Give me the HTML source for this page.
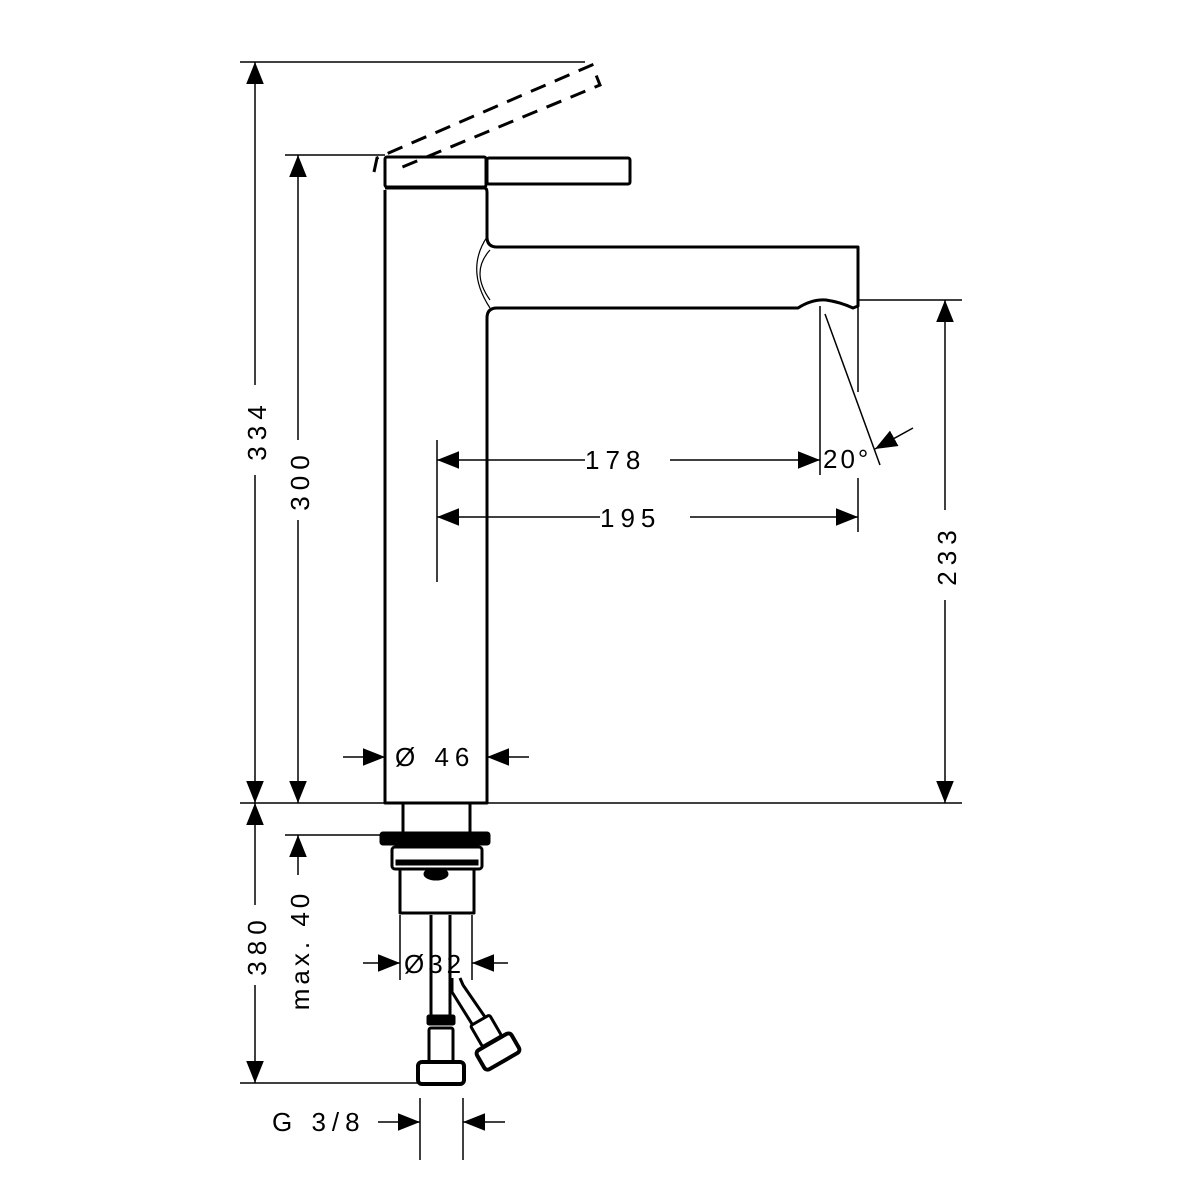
<!DOCTYPE html>
<html><head><style>html,body{margin:0;padding:0;background:#fff}svg{display:block}</style></head>
<body>
<svg width="1200" height="1200" viewBox="0 0 1200 1200" xmlns="http://www.w3.org/2000/svg" font-family="Liberation Sans, sans-serif">
<defs>
<marker id="a" viewBox="0 0 10 10" refX="10" refY="5" markerWidth="22" markerHeight="22" markerUnits="userSpaceOnUse" orient="auto"><path d="M0,1 L10,5 L0,9 z" fill="#000"/></marker>
</defs>
<g stroke="#000" fill="none" stroke-width="1.5">
<line x1="240" y1="62" x2="585" y2="62"/>
<line x1="285" y1="155" x2="385" y2="155"/>
<line x1="240" y1="803" x2="962" y2="803"/>
<line x1="858" y1="300" x2="962" y2="300"/>
<line x1="285" y1="835" x2="380" y2="835"/>
<line x1="240" y1="1083" x2="420" y2="1083"/>
<line x1="437" y1="440" x2="437" y2="582"/>
<line x1="820" y1="306" x2="820" y2="475"/>
<line x1="858" y1="300" x2="858" y2="392"/>
<line x1="858" y1="478" x2="858" y2="532"/>
<line x1="825" y1="314" x2="880" y2="465"/>
<line x1="255" y1="385" x2="255" y2="62" marker-end="url(#a)"/>
<line x1="255" y1="475" x2="255" y2="803" marker-end="url(#a)"/>
<line x1="298" y1="440" x2="298" y2="155" marker-end="url(#a)"/>
<line x1="298" y1="520" x2="298" y2="803" marker-end="url(#a)"/>
<line x1="945" y1="510" x2="945" y2="300" marker-end="url(#a)"/>
<line x1="945" y1="600" x2="945" y2="803" marker-end="url(#a)"/>
<line x1="585" y1="460" x2="437" y2="460" marker-end="url(#a)"/>
<line x1="670" y1="460" x2="820" y2="460" marker-end="url(#a)"/>
<line x1="600" y1="517" x2="437" y2="517" marker-end="url(#a)"/>
<line x1="690" y1="517" x2="858" y2="517" marker-end="url(#a)"/>
<line x1="913" y1="428" x2="875" y2="449" marker-end="url(#a)"/>
<line x1="343" y1="757" x2="385" y2="757" marker-end="url(#a)"/>
<line x1="529" y1="757" x2="487" y2="757" marker-end="url(#a)"/>
<line x1="255" y1="905" x2="255" y2="803" marker-end="url(#a)"/>
<line x1="255" y1="985" x2="255" y2="1083" marker-end="url(#a)"/>
<line x1="298" y1="875" x2="298" y2="835" marker-end="url(#a)"/>
<line x1="363" y1="963" x2="400" y2="963" marker-end="url(#a)"/>
<line x1="508" y1="963" x2="472" y2="963" marker-end="url(#a)"/>
<line x1="400" y1="915" x2="400" y2="980"/>
<line x1="472" y1="915" x2="472" y2="980"/>
<line x1="378" y1="1122" x2="420" y2="1122" marker-end="url(#a)"/>
<line x1="505" y1="1122" x2="463" y2="1122" marker-end="url(#a)"/>
<line x1="420" y1="1098" x2="420" y2="1160"/>
<line x1="463" y1="1098" x2="463" y2="1160"/>
</g>
<g stroke="#000" fill="none" stroke-width="3" stroke-linejoin="round">
<rect x="385" y="157" width="101" height="30" rx="2"/>
<rect x="487" y="158" width="143" height="26" rx="2"/>
<path d="M385,190 V803 H487 V318 Q487,308 497,308 L798,308 Q812,299 826,300 Q840,302 853,308 L858,306 V247 L497,247 Q487,247 487,237 V192 Q487,188 484,188 H385"/>
<path d="M403,803 V832 M470,803 V832"/>
<path d="M400,868 V913 H474 V868"/>
<path d="M431,915 V1017 M450,915 V1017"/>
<path d="M452,978 V992 L482,1040 M460,978 L463,985 L496,1033"/>
</g>
<g stroke="#000" fill="none" stroke-width="1.2">
<path d="M487,237 Q465,270 490,308 M490,250 Q470,272 490,300"/>
</g>
<g stroke="#000" fill="none" stroke-width="3" stroke-dasharray="16,10">
<path d="M374,172 L377,158 L592,65 L600,85 L400,168"/>
</g>
<g fill="#000" stroke="#000">
<rect x="380" y="832" width="110" height="13" rx="3"/>
<rect x="392" y="847" width="90" height="22" rx="3" fill="#fff" stroke-width="3"/>
<rect x="396" y="860" width="82" height="5" fill="#000"/>
<ellipse cx="436" cy="874" rx="12" ry="6"/>
<rect x="427" y="1015" width="28" height="10" rx="2"/>
<rect x="429" y="1028" width="24" height="34" rx="2" fill="#fff" stroke-width="3"/>
<rect x="418" y="1062" width="46" height="22" rx="4" fill="#fff" stroke-width="4"/>
<g transform="rotate(-30 500 1055)"><rect x="489" y="1015" width="22" height="24" rx="2" fill="#fff" stroke-width="3"/><rect x="480" y="1040" width="40" height="22" rx="4" fill="#fff" stroke-width="4"/></g>
</g>
<g font-size="26" fill="#000" letter-spacing="6">
<text x="585" y="469">178</text>
<text x="600" y="527">195</text>
<text x="823" y="468" letter-spacing="3">20°</text>
<text x="395" y="766">Ø 46</text>
<text x="404" y="973" letter-spacing="4">Ø32</text>
<text x="272" y="1131">G 3/8</text>
<text transform="translate(266,430) rotate(-90)" text-anchor="middle">334</text>
<text transform="translate(309,480) rotate(-90)" text-anchor="middle">300</text>
<text transform="translate(956,555) rotate(-90)" text-anchor="middle">233</text>
<text transform="translate(266,945) rotate(-90)" text-anchor="middle">380</text>
<text transform="translate(309,950) rotate(-90)" text-anchor="middle" letter-spacing="4">max. 40</text>
</g>
</svg>
</body></html>
